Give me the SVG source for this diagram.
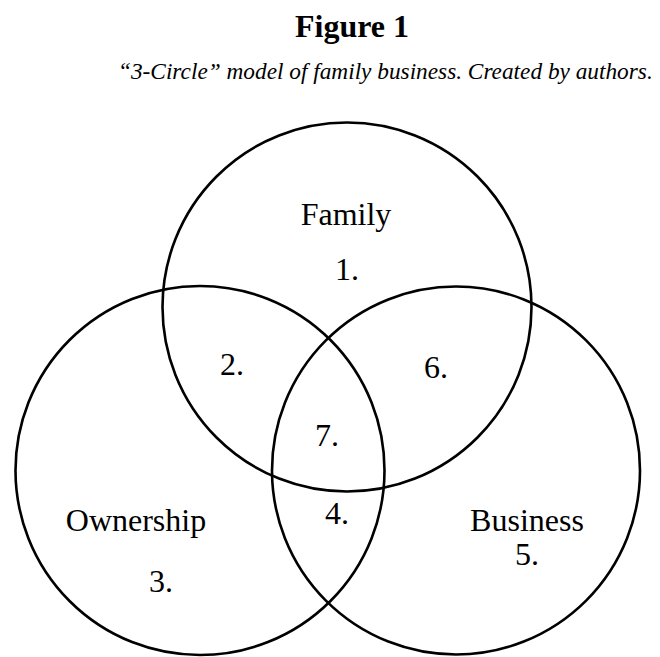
<svg xmlns="http://www.w3.org/2000/svg" width="660" height="657" viewBox="0 0 660 657">
<style>
.c{fill:none;stroke:#000;stroke-width:2.6}
.t{font-family:"Liberation Serif","Times New Roman",serif;font-size:32px;fill:#000;text-anchor:middle}
</style>
<rect width="660" height="657" fill="#fff"/>
<text x="352" y="37" style="font-family:'Liberation Serif','Times New Roman',serif;font-size:32px;font-weight:bold;text-anchor:middle">Figure 1</text>
<text x="118" y="79" style="font-family:'Liberation Serif','Times New Roman',serif;font-size:23.3px;font-style:italic">“3-Circle” model of family business. Created by authors.</text>
<g id="family"><circle class="c" cx="347" cy="307" r="184.5"/><text class="t" x="346" y="225">Family</text><text class="t" x="347" y="280">1.</text></g>
<g id="ownership"><circle class="c" cx="200" cy="470.5" r="184.5"/><text class="t" x="136" y="531">Ownership</text><text class="t" x="161" y="592">3.</text></g>
<g id="business"><circle class="c" cx="456" cy="470.5" r="184"/><text class="t" x="527" y="531">Business</text><text class="t" x="527" y="565">5.</text></g>
<g id="overlaps"><text class="t" x="232" y="375">2.</text><text class="t" x="436" y="378">6.</text><text class="t" x="327" y="446">7.</text><text class="t" x="337" y="524">4.</text></g>
</svg>
